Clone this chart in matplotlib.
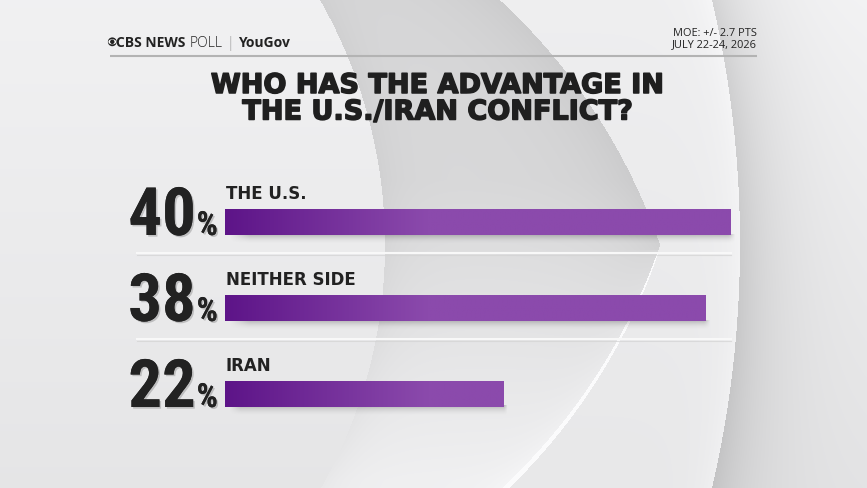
import numpy as np
import matplotlib
matplotlib.use("Agg")
import matplotlib.pyplot as plt
import matplotlib.font_manager as fm
import matplotlib.patheffects as pe
from matplotlib.patches import Ellipse, Circle
from matplotlib.colors import to_rgb

# ---------------- data ----------------
categories = ["THE U.S.", "NEITHER SIDE", "IRAN"]
values = [40, 38, 22]
title_lines = ["WHO HAS THE ADVANTAGE IN", "THE U.S./IRAN CONFLICT?"]
moe_lines = ["MOE: +/- 2.7 PTS", "JULY 22-24, 2026"]
brand_parts = ["CBS NEWS", "POLL", "|", "YouGov"]

# ---------------- fonts ----------------
names = {f.name for f in fm.fontManager.ttflist}
if "Liberation Sans Narrow" in names:
    NUM_FAMILY, NUM_SIZE = "Liberation Sans Narrow", 48
elif "Roboto Condensed" in names:
    NUM_FAMILY, NUM_SIZE = "Roboto Condensed", 48
else:
    NUM_FAMILY, NUM_SIZE = "Roboto", 46

DARK = "#222222"
HEAD_FONT = "DejaVu Sans"
label_font = "Open Sans"

# ---------------- figure ----------------
W, H = 867, 488
fig = plt.figure(figsize=(W / 100, H / 100), dpi=100)

# background (pixel coordinates)
bg = fig.add_axes([0, 0, 1, 1])
bg.set_xlim(0, W)
bg.set_ylim(H, 0)
bg.axis("off")

X, Y = np.meshgrid(np.arange(W) + 0.5, np.arange(H) + 0.5)
d_outer = np.hypot(X + 337, Y - 244) - 1077          # >0 outside big circle
dU = 600 - np.hypot(X - 93, Y - 441)                 # >0 inside upper-arc circle
dL = 600 - np.hypot(X - 93, Y - 49)                  # >0 inside lower-arc circle
d_lens = np.minimum(dU, dL)
d_pupil = 494 - np.hypot(X + 109, Y - 245)           # >0 inside pupil circle

out_val = 0.955 - 0.06 * (Y / H) - 0.13 * np.exp(-np.clip(d_outer, 0, None) / 45)
ring_val = 0.935 - 0.025 * (Y / H) + 0.03 * np.exp(-np.clip(-d_outer, 0, None) / 18)
lens_val = (0.85 + 0.09 * np.clip((Y - 180) / 300, 0, 1)
            - 0.05 * np.exp(-np.clip(dU, 0, None) / 45)
            - 0.03 * np.exp(-np.clip(-d_pupil, 0, None) / 22)
            + 0.02 * np.exp(-np.clip(dL, 0, None) / 15) * (Y > 250))
pupil_val = 0.945 - 0.045 * (Y / H)

img = np.where(d_outer > 0, out_val, ring_val)
img = np.where((d_lens > 0) & (d_outer <= 0), lens_val, img)
img = np.where((d_pupil > 0) & (d_outer <= 0), pupil_val, img)
hw = 1.0 + 4.0 * np.clip((Y - 250) / 238, 0, 1)
hl = (dL <= 0) & (dL > -hw) & (Y > 252) & (dU > 0)
img = np.where(hl, 0.985, img)
rgb = np.dstack([img, img, img * 1.005]).clip(0, 1)
bg.imshow(rgb, extent=(0, W, H, 0), aspect="auto", interpolation="bilinear", zorder=0)
bg.set_xlim(0, W)
bg.set_ylim(H, 0)

# header rule
bg.plot([110, 757], [55.5, 55.5], color="#b3b3b3", lw=1.5, solid_capstyle="butt", zorder=2)

# brand line
bg.add_patch(Circle((112.3, 41.8), 3.7, color=DARK, zorder=3))
bg.add_patch(Ellipse((112.3, 41.8), 6.4, 3.7, color="white", zorder=4))
bg.add_patch(Circle((112.3, 41.8), 1.5, color=DARK, zorder=5))
t = bg.text(116, 46.8, brand_parts[0], fontsize=10, fontweight="bold",
            fontfamily=label_font, color=DARK, va="baseline", ha="left", zorder=3)
styles = [dict(fontweight="light", color=DARK, gap=4),
          dict(fontweight="light", color="#9a9a9a", gap=4),
          dict(fontweight="bold", color=DARK, gap=4)]
for part, st in zip(brand_parts[1:], styles):
    t = bg.annotate(part, xy=(1, 46.8), xycoords=(t, "data"), xytext=(st["gap"], 0),
                    textcoords="offset pixels", fontsize=10, fontweight=st["fontweight"],
                    fontfamily=label_font, color=st["color"], va="baseline", ha="left", zorder=3)

# MOE block
for line, yb in zip(moe_lines, [35.9, 47.4]):
    bg.text(757, yb, line, fontsize=7.9, fontfamily=label_font, color=DARK,
            ha="right", va="baseline", zorder=3)

# title (heavy: bold + stroke)
heavy = [pe.Stroke(linewidth=1.1, foreground="#1f1f1f"), pe.Normal()]
for line, yb in zip(title_lines, [93, 119.5]):
    bg.text(438, yb, line, fontsize=19.5, color="#1f1f1f", ha="center", va="baseline",
            fontfamily=HEAD_FONT, fontweight="bold", path_effects=heavy, zorder=3)

# separators
for ys in [253.3, 339.3]:
    bg.plot([137, 731], [ys + 1.2, ys + 1.2], color="#d3d3d3", lw=0.8, alpha=0.7, zorder=2)
    bg.plot([137, 731], [ys, ys], color="#f8f8f8", lw=1.5, zorder=2)

# ---------------- bars ----------------
ax = fig.add_axes([225 / W, (H - 437) / H, 632.5 / W, 258 / H])
ax.patch.set_alpha(0)
ypos = np.arange(len(categories))
bh = 26 / 86
c0 = np.array(to_rgb("#5d1488"))
c1 = np.array(to_rgb("#8b4aac"))
bars = ax.barh(ypos, values, height=bh, color=c1, zorder=3)

px_y = 1 / 86
for b, v, y in zip(bars, values, ypos):
    xs = np.linspace(0, v, 400)
    tt = np.clip(xs / 16, 0, 1)[None, :, None]
    grad = c0 + (c1 - c0) * tt
    im = ax.imshow(grad, extent=(0, v, y + bh / 2, y - bh / 2), aspect="auto",
                   interpolation="bilinear", zorder=4)
    im.set_clip_path(b)
    ny, nx = 20, 300
    sv = np.linspace(0, 1, ny)[:, None]
    sx = np.linspace(0, 1, nx)[None, :]
    alpha = 0.32 * (1 - sv) ** 1.8 * np.clip(sx / 0.04, 0, 1) * np.clip((1 - sx) / 0.012, 0, 1)
    sh = np.zeros((ny, nx, 4))
    sh[..., :3] = 0.25
    sh[..., 3] = alpha
    ax.imshow(sh, extent=(0.3, v + 0.35, y + bh / 2 + 9 * px_y, y + bh / 2 - 1 * px_y),
              aspect="auto", interpolation="bilinear", zorder=2)

ax.set_xlim(0, 50)
ax.set_ylim(len(categories) - 0.5, -0.5)
ax.axis("off")

shadow = [pe.withSimplePatchShadow(offset=(1.2, -1.2), shadow_rgbFace="#000000", alpha=0.18),
          pe.Normal()]
for cat, v, y in zip(categories, values, ypos):
    ax.annotate(cat, xy=(0, y), xytext=(1, 23), textcoords="offset pixels", ha="left",
                va="baseline", fontsize=12, fontweight="bold", fontfamily=HEAD_FONT,
                color=DARK, zorder=5)
    pct = ax.annotate("%", xy=(0, y), xytext=(-7, -13), textcoords="offset pixels",
                      ha="right", va="baseline", color=DARK, zorder=5,
                      fontsize=NUM_SIZE * 0.5, fontfamily=NUM_FAMILY, fontweight="bold",
                      path_effects=shadow)
    ax.annotate(f"{v}", xy=(0, y), xycoords=(pct, "data"), xytext=(-1, -13),
                textcoords="offset pixels", ha="right", va="baseline",
                color=DARK, zorder=5, fontsize=NUM_SIZE, fontfamily=NUM_FAMILY,
                fontweight="bold", path_effects=shadow)

fig.savefig("out.png", dpi=100)
